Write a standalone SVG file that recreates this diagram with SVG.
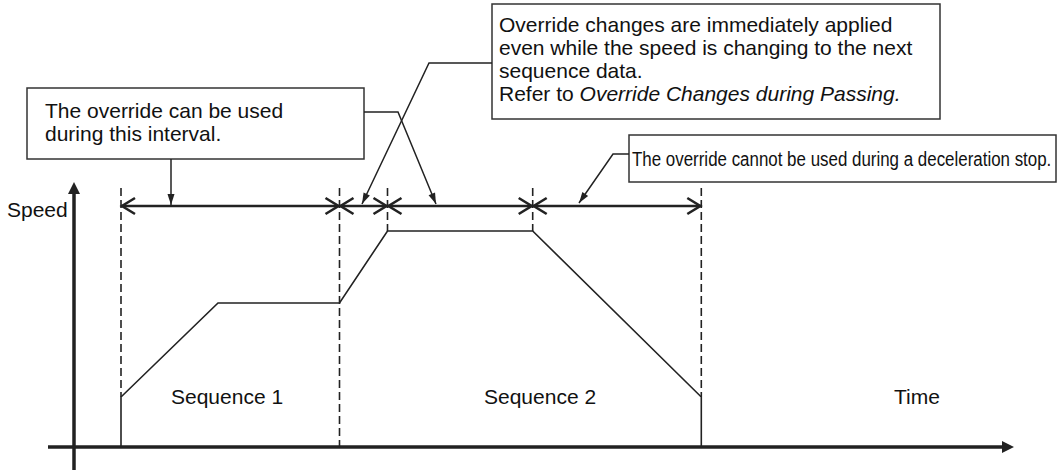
<svg xmlns="http://www.w3.org/2000/svg" width="1058" height="470" viewBox="0 0 1058 470">
<style>
  .box{fill:#fff;stroke:#333;stroke-width:1.5}
  .t{font-family:"Liberation Sans",Arial,sans-serif;font-size:21px;fill:#111}
  .tn{font-family:"Liberation Sans",Arial,sans-serif;font-size:20px;fill:#111}
  .dash{stroke:#222;stroke-width:1.6;stroke-dasharray:8,4;fill:none}
  .prof{stroke:#222;stroke-width:1.6;fill:none}
  .iv{stroke:#222;stroke-width:2.6;fill:none;marker-start:url(#chev);marker-end:url(#chev)}
  .call{stroke:#222;stroke-width:1.5;fill:none;marker-end:url(#tri)}
  .axis{stroke:#222;stroke-width:3.5;fill:none}
</style>
<defs>
  <marker id="chev" viewBox="-16 -10 18 20" refX="0" refY="0" markerWidth="18" markerHeight="20" markerUnits="userSpaceOnUse" orient="auto-start-reverse">
    <path d="M-14,-8 L-1,0 L-14,8" fill="none" stroke="#222" stroke-width="2.6"/>
  </marker>
  <marker id="tri" viewBox="-12 -5 13 10" refX="0" refY="0" markerWidth="13" markerHeight="10" markerUnits="userSpaceOnUse" orient="auto">
    <path d="M-11,-3.5 L0,0 L-11,3.5 Z" fill="#222"/>
  </marker>
</defs>

<g id="axes">
  <line class="axis" x1="74" y1="470" x2="74" y2="193"/>
  <path d="M68,194 L74,182 L80,194 Z" fill="#222"/>
  <line class="axis" x1="48" y1="447" x2="1003" y2="447"/>
  <path d="M1002,441 L1014,447 L1002,453 Z" fill="#222"/>
  <text class="t" x="7" y="217">Speed</text>
  <text class="t" x="894" y="404">Time</text>
</g>

<g id="guides">
  <line class="dash" x1="121" y1="188" x2="121" y2="397"/>
  <line class="dash" x1="339.5" y1="188" x2="339.5" y2="447"/>
  <line class="dash" x1="387.5" y1="188" x2="387.5" y2="231"/>
  <line class="dash" x1="532.7" y1="188" x2="532.7" y2="231"/>
  <line class="dash" x1="701.3" y1="188" x2="701.3" y2="397"/>
</g>

<g id="profile">
  <path class="prof" d="M121,447 L121,397 L218,303 L339.5,303 L387.5,231 L532.7,231 L701.3,397 L701.3,447"/>
  <text class="t" x="171" y="404">Sequence 1</text>
  <text class="t" x="484" y="404">Sequence 2</text>
</g>

<g id="intervals">
  <line class="iv" x1="121" y1="206" x2="339.5" y2="206"/>
  <line class="iv" x1="339.5" y1="206" x2="387.5" y2="206"/>
  <line class="iv" x1="387.5" y1="206" x2="532.7" y2="206"/>
  <line class="iv" x1="532.7" y1="206" x2="701.3" y2="206"/>
</g>

<g id="box1">
  <rect class="box" x="27" y="88" width="337" height="71"/>
  <text class="t" x="45" y="118">The override can be used</text>
  <text class="t" x="45" y="141">during this interval.</text>
</g>

<g id="box2">
  <rect class="box" x="492" y="4" width="448" height="115"/>
  <text class="t" x="499" y="32">Override changes are immediately applied</text>
  <text class="t" x="499" y="55">even while the speed is changing to the next</text>
  <text class="t" x="499" y="78">sequence data.</text>
  <text class="t" x="499" y="101">Refer to <tspan font-style="italic">Override Changes during Passing.</tspan></text>
</g>

<g id="box3">
  <rect class="box" x="629" y="135" width="427" height="47"/>
  <text class="tn" transform="translate(632 166) scale(0.846 1)" x="0" y="0">The override cannot be used during a deceleration stop.</text>
</g>

<g id="connectors">
  <polyline class="call" points="171,159 171,205"/>
  <polyline class="call" points="364,112 398,112 436,204"/>
  <polyline class="call" points="492,63 429,63 362,204"/>
  <polyline class="call" points="629,154 613,154 579,203"/>
</g>
</svg>
